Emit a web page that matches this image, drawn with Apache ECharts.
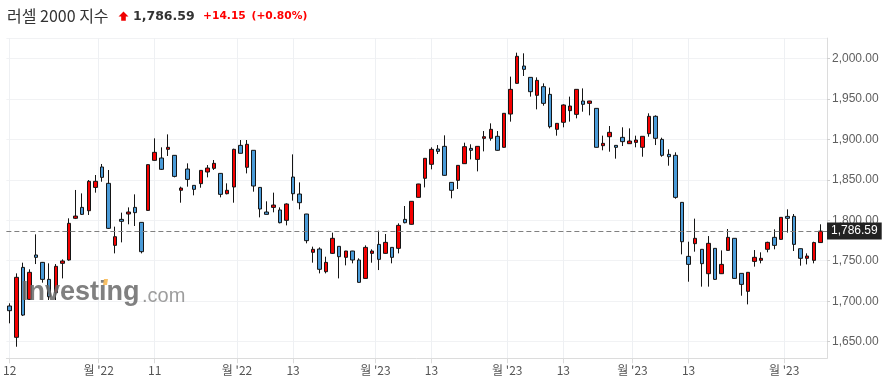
<!DOCTYPE html>
<html>
<head>
<meta charset="utf-8">
<script src="https://cdn.jsdelivr.net/npm/echarts@6/dist/echarts.min.js"></script>
<style>
html,body{margin:0;padding:0;background:#fff;}
#chart{width:884px;height:388px;}
</style>
</head>
<body>
<div id="chart"></div>
<script>
// Trading days (Russell 2000, daily)
const dates = [
'2022-10-12','2022-10-13','2022-10-14','2022-10-17','2022-10-18','2022-10-19','2022-10-20','2022-10-21','2022-10-24','2022-10-25','2022-10-26','2022-10-27','2022-10-28','2022-10-31',
'2022-11-01','2022-11-02','2022-11-03','2022-11-04','2022-11-07','2022-11-08','2022-11-09','2022-11-10','2022-11-11','2022-11-14','2022-11-15','2022-11-16','2022-11-17','2022-11-18','2022-11-21','2022-11-22','2022-11-23','2022-11-25','2022-11-28','2022-11-29','2022-11-30',
'2022-12-01','2022-12-02','2022-12-05','2022-12-06','2022-12-07','2022-12-08','2022-12-09','2022-12-12','2022-12-13','2022-12-14','2022-12-15','2022-12-16','2022-12-19','2022-12-20','2022-12-21','2022-12-22','2022-12-23','2022-12-27','2022-12-28','2022-12-29','2022-12-30',
'2023-01-03','2023-01-04','2023-01-05','2023-01-06','2023-01-09','2023-01-10','2023-01-11','2023-01-12','2023-01-13','2023-01-17','2023-01-18','2023-01-19','2023-01-20','2023-01-23','2023-01-24','2023-01-25','2023-01-26','2023-01-27','2023-01-30','2023-01-31',
'2023-02-01','2023-02-02','2023-02-03','2023-02-06','2023-02-07','2023-02-08','2023-02-09','2023-02-10','2023-02-13','2023-02-14','2023-02-15','2023-02-16','2023-02-17','2023-02-21','2023-02-22','2023-02-23','2023-02-24','2023-02-27','2023-02-28',
'2023-03-01','2023-03-02','2023-03-03','2023-03-06','2023-03-07','2023-03-08','2023-03-09','2023-03-10','2023-03-13','2023-03-14','2023-03-15','2023-03-16','2023-03-17','2023-03-20','2023-03-21','2023-03-22','2023-03-23','2023-03-24','2023-03-27','2023-03-28','2023-03-29','2023-03-30','2023-03-31',
'2023-04-03','2023-04-04','2023-04-05','2023-04-06','2023-04-10','2023-04-11'
];

const openP = [
1694.1,1655.4,1741.8,1702.3,1757.1,1748.0,1727.0,1710.5,1746.8,1750.9,1802.4,1815.9,1811.8,1840.6,1865.8,1845.6,1769.0,1801.1,1807.7,1815.9,
1797.4,1812.2,1874.0,1876.9,1887.6,1880.2,1837.0,1863.3,1843.1,1845.2,1859.6,1864.1,1857.9,1832.8,1841.1,1892.5,1865.4,1886.4,1840.6,1810.2,
1815.9,1812.7,1799.9,1853.4,1832.4,1807.7,1760.4,1764.5,1736.5,1759.1,1767.8,1754.2,1762.0,1750.9,1728.2,1759.1,1770.2,1759.1,1766.5,1765.3,
1801.1,1795.0,1828.3,1851.8,1869.1,1888.0,1891.3,1846.8,1849.3,1869.9,1888.8,1875.2,1901.2,1901.2,1903.7,1890.1,1931.2,1969.1,1990.5,1976.5,
1954.3,1965.0,1955.5,1912.3,1921.0,1935.4,1930.8,1947.3,1944.4,1938.2,1892.1,1903.2,1892.5,1902.4,1894.6,1896.2,1890.1,1906.9,1928.4,1899.9,
1881.4,1880.2,1822.1,1755.4,1771.1,1764.1,1734.0,1765.3,1734.0,1762.8,1777.7,1734.4,1712.2,1749.2,1750.5,1764.1,1778.9,1776.4,1804.8,1804.8,
1764.9,1753.0,1750.5,1772.44
];
const closeP = [
1688.3,1729.5,1682.9,1735.7,1754.2,1727.0,1705.6,1743.1,1749.7,1796.2,1805.2,1807.3,1848.1,1848.1,1853.0,1790.0,1779.7,1798.7,1810.2,1809.4,
1761.2,1868.7,1883.9,1862.9,1890.1,1854.2,1839.8,1850.5,1838.2,1861.6,1864.5,1870.3,1832.0,1837.0,1887.6,1882.7,1893.8,1842.3,1813.9,1807.3,
1818.8,1797.0,1820.1,1832.8,1821.7,1774.8,1764.1,1739.4,1748.0,1777.7,1755.0,1762.0,1750.9,1723.3,1766.5,1762.0,1751.7,1772.7,1754.2,1793.7,
1797.0,1823.4,1844.8,1876.5,1887.6,1885.1,1855.5,1837.0,1867.8,1890.9,1886.4,1891.3,1903.2,1912.3,1886.4,1932.1,1961.7,2002.5,1986.4,1958.8,
1972.8,1944.4,1915.6,1919.7,1942.4,1941.1,1961.7,1943.2,1947.3,1890.1,1895.0,1908.6,1890.1,1897.1,1897.9,1899.1,1903.7,1928.4,1901.2,1880.2,
1878.5,1828.3,1773.5,1745.5,1777.7,1746.4,1771.5,1727.0,1745.5,1778.9,1728.2,1720.8,1735.7,1754.2,1753.0,1772.7,1769.0,1803.6,1802.4,1770.2,
1753.0,1755.8,1772.44,1786.59
];
const lowP = [
1672.7,1643.8,1681.7,1701.5,1745.9,1722.9,1701.5,1701.5,1728.2,1750.1,1801.5,1806.5,1806.5,1834.1,1847.6,1789.2,1759.1,1772.7,1795.0,1792.9,
1759.1,1811.8,1873.6,1862.1,1879.4,1853.0,1821.7,1841.5,1830.8,1840.2,1853.0,1862.1,1828.3,1832.0,1821.7,1882.5,1857.9,1835.3,1803.6,1807.1,
1809.8,1796.2,1793.7,1824.2,1813.5,1771.5,1747.6,1734.4,1734.4,1758.3,1728.2,1744.3,1746.8,1722.9,1727.8,1747.6,1738.5,1758.7,1746.8,1759.1,
1796.2,1794.6,1827.9,1840.6,1862.9,1881.8,1855.1,1827.1,1838.6,1869.5,1875.2,1860.4,1885.1,1898.3,1886.0,1889.7,1921.8,1968.7,1978.2,1952.7,
1937.0,1941.5,1913.5,1904.5,1914.8,1921.8,1925.9,1934.1,1929.6,1889.9,1886.4,1884.7,1876.1,1891.7,1894.4,1890.1,1878.5,1903.2,1892.9,1878.5,
1867.4,1826.6,1757.9,1724.1,1761.2,1718.0,1718.0,1726.2,1733.6,1762.4,1727.8,1706.8,1696.1,1742.7,1746.8,1760.4,1764.1,1776.0,1784.7,1762.0,
1743.9,1745.5,1746.8,1772.2
];
const highP = [
1697.4,1734.4,1747.6,1739.4,1782.6,1748.5,1746.8,1745.9,1751.7,1802.4,1837.4,1833.2,1849.7,1855.9,1869.5,1862.1,1792.1,1809.4,1815.9,1832.0,
1797.6,1869.0,1901.2,1890.1,1906.1,1880.5,1841.5,1870.3,1843.3,1861.8,1868.2,1874.4,1858.2,1845.6,1888.4,1899.1,1899.1,1886.6,1840.8,1823.4,
1834.1,1815.9,1820.9,1881.4,1846.8,1807.9,1767.4,1766.5,1755.0,1784.7,1768.0,1762.2,1762.2,1753.0,1769.0,1764.1,1787.1,1783.0,1766.7,1796.2,
1817.6,1823.6,1845.0,1876.7,1890.1,1892.9,1904.9,1847.0,1868.0,1895.8,1893.8,1891.5,1910.2,1919.7,1910.2,1932.3,1977.4,2007.0,2006.2,1976.7,
1976.5,1969.1,1963.8,1919.9,1943.2,1952.7,1961.9,1962.9,1947.5,1938.4,1904.5,1916.4,1892.7,1914.8,1913.5,1904.5,1903.9,1932.1,1929.6,1902.0,
1887.6,1883.9,1822.3,1773.5,1802.0,1764.3,1780.5,1765.5,1762.8,1789.2,1777.9,1734.6,1735.9,1763.2,1760.4,1773.5,1788.8,1803.8,1813.5,1807.7,
1765.1,1759.1,1773.5,1795.0
];

// X-axis tick labels (text) and their position in candle-index units
const tickLabels = ['12', "월 '22", '11', "월 '22", '13', "월 '23", '13', "월 '23", '13', "월 '23", '13', "월 '23"];
const tickIndex  = [0, 13.5, 22, 34.5, 43, 55.5, 64, 75.5, 84, 94.5, 103, 117.5];

// Y-axis
const yMin = 1629.5, yMax = 2025, yStep = 50;
const lastPrice = 1786.59, change = 14.15, changePct = 0.80;

const fmt2 = v => v.toLocaleString('en-US', {minimumFractionDigits: 2, maximumFractionDigits: 2});

// Half-step slots so that month-boundary ticks can sit between candles
const nSlots = dates.length * 2 + 2;
const slotNames = [];
for (let s = 0; s < nSlots; s++) {
  const k = (s - 1) / 2;
  slotNames.push((s % 2 === 1 && k < dates.length) ? dates[k] : 'pad' + s);
}
const labelAt = {};
tickIndex.forEach((t, i) => { labelAt[Math.round(t * 2 + 1)] = tickLabels[i]; });
const isTick = idx => labelAt[idx] !== undefined;

const candles = dates.map((d, i) => [d, openP[i], closeP[i], lowP[i], highP[i]]);

const chart = echarts.init(document.getElementById('chart'), null, {renderer: 'canvas'});
chart.setOption({
  animation: false,
  backgroundColor: '#ffffff',
  grid: {left: 6, right: 57, top: 38.1, bottom: 29.7, containLabel: false},
  xAxis: {
    type: 'category',
    data: slotNames,
    boundaryGap: false,
    axisLine: {show: true, lineStyle: {color: '#dcdcdc', width: 1}},
    axisTick: {show: true, interval: isTick, length: 5, lineStyle: {color: '#dcdcdc'}},
    axisLabel: {
      interval: isTick,
      formatter: (v, idx) => labelAt[idx] || '',
      color: '#555',
      fontSize: 12,
      fontFamily: "'Liberation Sans Narrow', 'Noto Sans CJK KR', sans-serif",
      margin: 6
    },
    splitLine: {show: true, interval: isTick, lineStyle: {color: '#eef0f3', width: 1}}
  },
  yAxis: {
    type: 'value',
    position: 'right',
    min: yMin,
    max: yMax,
    minInterval: yStep,
    maxInterval: yStep,
    scale: true,
    axisLine: {show: true, lineStyle: {color: '#dcdcdc'}},
    axisTick: {show: true, length: 3, lineStyle: {color: '#cfcfcf'}},
    axisLabel: {
      showMinLabel: false,
      showMaxLabel: false,
      formatter: v => fmt2(v),
      color: '#5f5f5f',
      fontSize: 12,
      fontFamily: "'Liberation Sans', Arial, sans-serif",
      margin: 5
    },
    splitLine: {show: true, lineStyle: {color: '#f1f2f4', width: 1}}
  },
  series: [{
    type: 'candlestick',
    data: candles,
    encode: {x: 0, y: [1, 2, 3, 4]},
    barWidth: 4,
    itemStyle: {
      color: '#f50000',
      color0: '#4a9bd8',
      borderColor: '#151515',
      borderColor0: '#151515',
      borderWidth: 1
    },
    markLine: {
      silent: true,
      symbol: ['none', 'none'],
      data: [{yAxis: lastPrice}],
      lineStyle: {color: '#808080', type: [5, 3], width: 1.2},
      label: {
        show: true,
        position: 'end',
        distance: 0,
        formatter: () => fmt2(lastPrice),
        backgroundColor: '#222222',
        color: '#ffffff',
        fontSize: 12,
        fontFamily: "'Liberation Sans', Arial, sans-serif",
        padding: [3, 4, 2, 4]
      }
    }
  }],
  graphic: [
    {type: 'text', x: 7, y: 16, style: {text: '러셀 2000 지수', font: "16px 'Noto Sans CJK KR'", fill: '#333', verticalAlign: 'middle'}},
    {type: 'polygon', shape: {points: [[123.5, 11.5], [128.5, 16.5], [125.8, 16.5], [125.8, 20.7], [121.2, 20.7], [121.2, 16.5], [118.5, 16.5]]}, style: {fill: '#f00000'}},
    {type: 'text', x: 133, y: 16.5, style: {text: fmt2(lastPrice), font: "bold 12.5px 'DejaVu Sans'", fill: '#333', verticalAlign: 'middle'}},
    {type: 'text', x: 203, y: 16.5, style: {text: '+' + change.toFixed(2), font: "bold 10.7px 'DejaVu Sans'", fill: '#ff0000', verticalAlign: 'middle'}},
    {type: 'text', x: 251.5, y: 16.5, style: {text: '(+' + changePct.toFixed(2) + '%)', font: "bold 10.7px 'DejaVu Sans'", fill: '#ff0000', verticalAlign: 'middle'}},
    {type: 'text', x: 21, y: 292.6, z: 100, style: {text: 'Investing', font: "bold 27px 'Liberation Sans', Arial", fill: '#6a6a6a', opacity: 0.85, verticalAlign: 'middle'}},
    {type: 'text', x: 142, y: 296, z: 100, style: {text: '.com', font: "20px 'Liberation Sans', Arial", fill: '#8c8c8c', opacity: 0.85, verticalAlign: 'middle'}},
    {type: 'polygon', z: 101, shape: {points: [[104, 279], [108, 279], [107, 285], [103, 285]]}, style: {fill: '#f7b955', opacity: 0.9}}
  ]
});
</script>
</body>
</html>
